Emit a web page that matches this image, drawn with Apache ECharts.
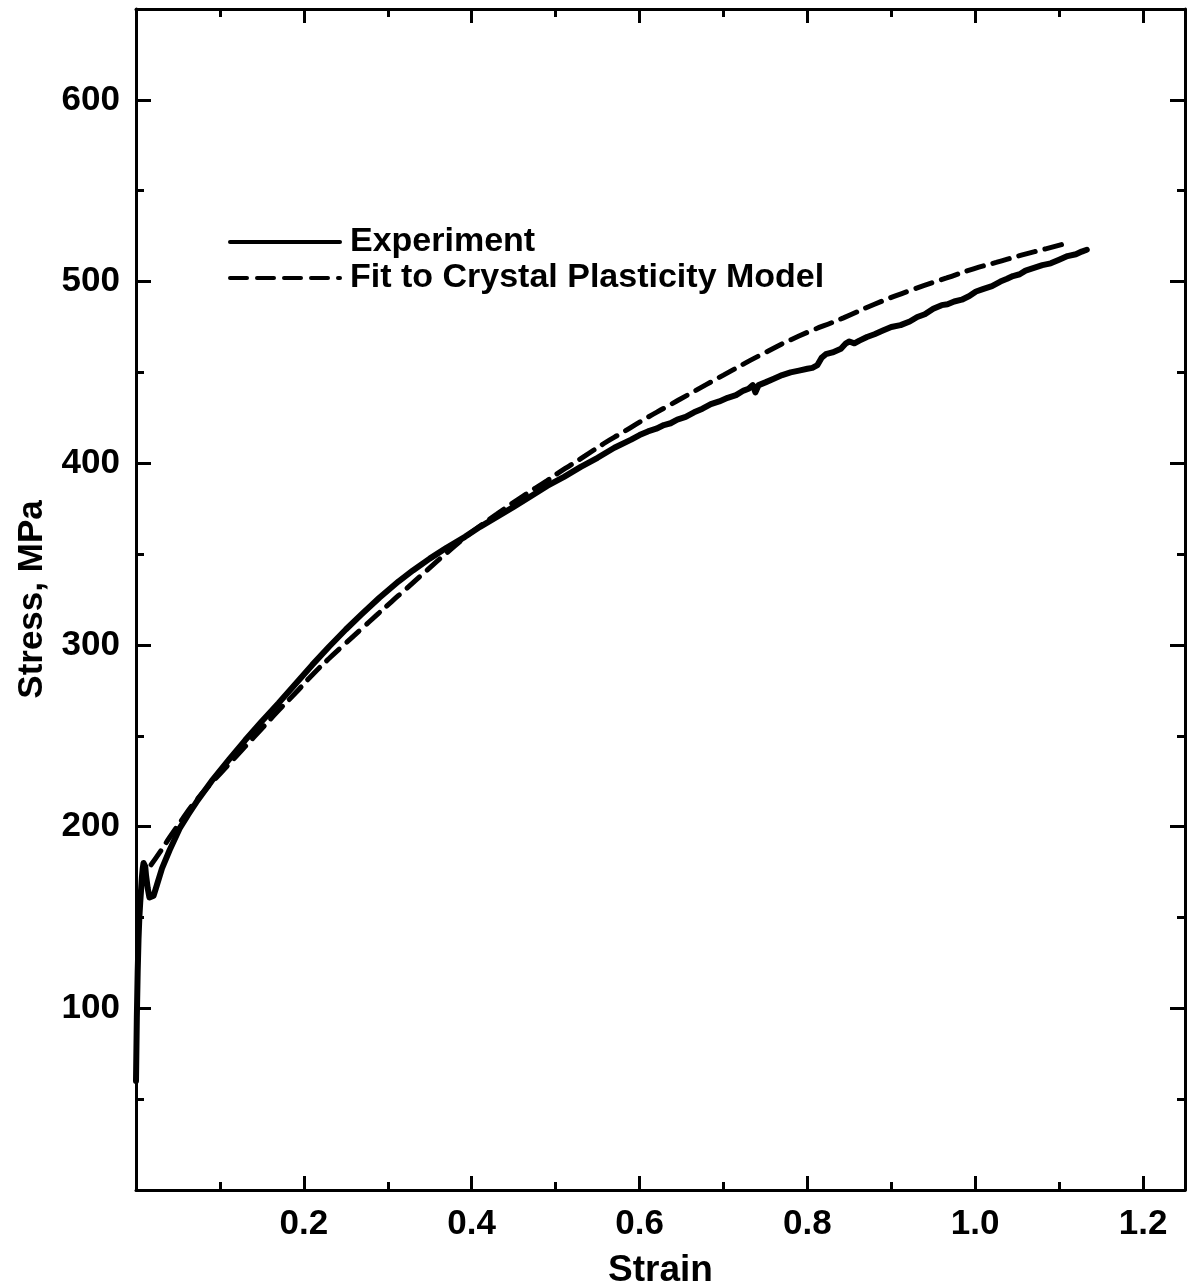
<!DOCTYPE html>
<html>
<head>
<meta charset="utf-8">
<title>Stress-strain curve</title>
<script src="https://cdn.jsdelivr.net/npm/echarts@6/dist/echarts.min.js"></script>
<style>
  html, body { margin: 0; padding: 0; background: #fff; }
  #chart { width: 1193px; height: 1286px; }
</style>
</head>
<body>
<div id="chart"></div>
<script>
// Measured stress vs. strain (strain, MPa)
const experimentStrain = [
  0.000, 0.001, 0.002, 0.003, 0.004, 0.005, 0.006, 0.007, 0.008, 0.009,
  0.010, 0.011, 0.012, 0.014, 0.016, 0.018, 0.021, 0.025, 0.031, 0.040,
  0.052, 0.062, 0.072, 0.090, 0.111, 0.130, 0.150, 0.170, 0.190, 0.210,
  0.230, 0.250, 0.269, 0.290, 0.313, 0.330, 0.350, 0.370, 0.392, 0.410,
  0.430, 0.450, 0.471, 0.490, 0.510, 0.530, 0.550, 0.570, 0.590, 0.600,
  0.610, 0.620, 0.629, 0.637, 0.645, 0.655, 0.665, 0.675, 0.685, 0.695,
  0.705, 0.715, 0.724, 0.730, 0.735, 0.738, 0.742, 0.750, 0.760, 0.770,
  0.780, 0.790, 0.800, 0.806, 0.812, 0.817, 0.822, 0.830, 0.840, 0.846,
  0.850, 0.856, 0.862, 0.871, 0.880, 0.890, 0.900, 0.911, 0.922, 0.931,
  0.940, 0.950, 0.960, 0.967, 0.975, 0.984, 0.993, 1.001, 1.010, 1.020,
  1.030, 1.038, 1.045, 1.053, 1.060, 1.070, 1.080, 1.090, 1.100, 1.110,
  1.120, 1.127, 1.133
];
const experimentStress = [
  60, 95, 120, 138, 150, 158, 165, 172, 177, 180,
  181, 178, 173, 166, 161, 160, 162, 168, 177, 187,
  199, 206.5, 213.5, 225, 237, 247.5, 258, 268, 278.5, 289,
  299, 308.5, 317, 326, 335, 341, 347.5, 353.5, 359.5, 365,
  370.5, 376, 382, 387.5, 392.5, 398, 403, 408.5, 413, 415.5,
  417.5, 419, 421, 422, 424, 425.5, 428, 430, 432.5, 434,
  436, 437.5, 440, 441, 443, 439, 443, 444.5, 446.5, 448.5,
  450, 451, 452, 452.5, 454, 458, 460, 461, 463, 466,
  467, 466, 467.5, 469.5, 471, 473, 475, 476, 478, 480.5,
  482, 485, 487, 487.5, 489, 490, 492, 494.5, 496, 497.5,
  500, 501.5, 503, 504, 506, 507.5, 509, 510, 512, 514,
  515, 516.5, 517.5
];

// Crystal plasticity model fit
const fitStrain = [
  0.018, 0.030, 0.040, 0.055, 0.071, 0.090, 0.111, 0.130, 0.150, 0.170,
  0.190, 0.210, 0.230, 0.250, 0.269, 0.287, 0.305, 0.321, 0.344, 0.370,
  0.400, 0.430, 0.460, 0.490, 0.511, 0.535, 0.558, 0.580, 0.605, 0.630,
  0.661, 0.700, 0.744, 0.790, 0.843, 0.880, 0.922, 0.966, 0.998, 1.025,
  1.055, 1.084, 1.112
];
const fitStress = [
  179, 187, 194, 204, 214, 224, 234.5, 244, 254, 264,
  273.5, 283.5, 292.5, 301, 309, 316.5, 324, 330.5, 340, 350.5,
  362, 372, 381.5, 390.5, 397, 404, 411, 417, 424, 430.5,
  438.5, 448.5, 459.5, 470, 480, 487.5, 495, 502, 507, 510.5,
  514.5, 518, 521.5
];

const xTicks = [0.2, 0.4, 0.6, 0.8, 1.0, 1.2];
const yTicks = [100, 200, 300, 400, 500, 600];

const zip = (xs, ys) => xs.map((x, i) => [x, ys[i]]);

const FONT = '"Liberation Sans", Arial, Helvetica, sans-serif';
const INK = '#000';

const frameLine = { show: true, onZero: false, lineStyle: { color: INK, width: 3 } };

function xAxisDef(pos, labels) {
  return {
    type: 'value', position: pos, min: 0, max: 1.25, interval: 0.2,
    axisLine: frameLine,
    axisTick: { show: true, inside: true, length: 14, lineStyle: { color: INK, width: 3 } },
    minorTick: { show: true, splitNumber: 2, length: 8, lineStyle: { color: INK, width: 3 } },
    splitLine: { show: false },
    minorSplitLine: { show: false },
    axisLabel: labels ? {
      show: true, margin: 17, color: INK, fontFamily: FONT, fontSize: 35, fontWeight: 'bold',
      formatter: v => xTicks.some(t => Math.abs(t - v) < 1e-9) ? v.toFixed(1) : ''
    } : { show: false },
    name: labels ? 'Strain' : '',
    nameLocation: 'middle', nameGap: 62,
    nameTextStyle: { color: INK, fontFamily: FONT, fontSize: 37, fontWeight: 'bold' }
  };
}

function yAxisDef(pos, labels) {
  return {
    type: 'value', position: pos, min: 0, max: 650, interval: 100,
    axisLine: frameLine,
    axisTick: { show: true, inside: true, length: 15, lineStyle: { color: INK, width: 3 } },
    minorTick: { show: true, splitNumber: 2, length: 8, lineStyle: { color: INK, width: 3 } },
    splitLine: { show: false },
    minorSplitLine: { show: false },
    axisLabel: labels ? {
      show: true, margin: 16, color: INK, fontFamily: FONT, fontSize: 35, fontWeight: 'bold',
      formatter: v => yTicks.includes(v) ? String(v) : ''
    } : { show: false },
    name: labels ? 'Stress, MPa' : '',
    nameLocation: 'middle', nameGap: 86, nameRotate: 90,
    nameTextStyle: { color: INK, fontFamily: FONT, fontSize: 35, fontWeight: 'bold' }
  };
}

const chart = echarts.init(document.getElementById('chart'), null, { renderer: 'canvas' });
chart.setOption({
  backgroundColor: '#fff',
  animation: false,
  grid: { left: 136, right: 8, top: 9, bottom: 96, containLabel: false, outerBoundsMode: 'none' },
  legend: {
    orient: 'vertical', left: 228, top: 225, padding: 0, itemGap: 2,
    itemWidth: 110, itemHeight: 14,
    itemStyle: { opacity: 0 },
    lineStyle: { width: 4 },
    textStyle: { color: INK, fontFamily: FONT, fontSize: 34, fontWeight: 'bold', padding: [0, 0, 0, 5], lineHeight: 34 },
    data: ['Experiment', 'Fit to Crystal Plasticity Model']
  },
  xAxis: [xAxisDef('bottom', true), xAxisDef('top', false)],
  yAxis: [yAxisDef('left', true), yAxisDef('right', false)],
  series: [
    {
      name: 'Experiment', type: 'line', xAxisIndex: 0, yAxisIndex: 0,
      data: zip(experimentStrain, experimentStress),
      symbol: 'none', smooth: false,
      lineStyle: { color: INK, width: 6, cap: 'round', join: 'round' },
      itemStyle: { color: INK }
    },
    {
      name: 'Fit to Crystal Plasticity Model', type: 'line', xAxisIndex: 0, yAxisIndex: 0,
      data: zip(fitStrain, fitStress),
      symbol: 'none', smooth: true,
      lineStyle: { color: INK, width: 5, type: [17, 10], cap: 'round' },
      itemStyle: { color: INK }
    }
  ]
});
</script>
</body>
</html>
